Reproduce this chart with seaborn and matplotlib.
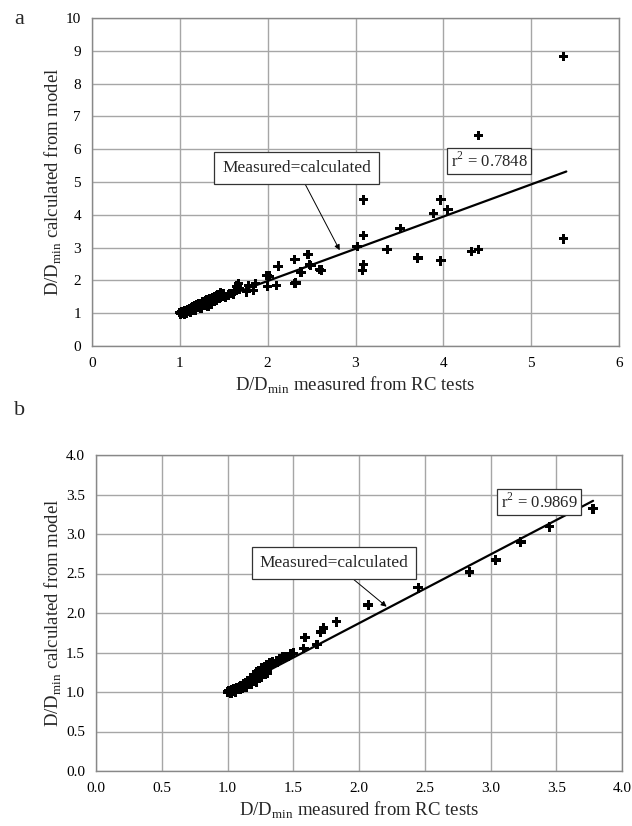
import numpy as np
import pandas as pd
import matplotlib
matplotlib.use("Agg")
import matplotlib.pyplot as plt
import seaborn as sns

# ---------------- data (panel a) ----------------
a_meas = [1.00, 1.01, 1.02, 1.03, 1.04, 1.05, 1.06, 1.07, 1.08, 1.09, 1.10, 1.11,
          1.12, 1.13, 1.14, 1.15, 1.16, 1.17, 1.18, 1.19, 1.20, 1.21, 1.22, 1.23,
          1.25, 1.26, 1.27, 1.28, 1.29, 1.30, 1.31, 1.33, 1.34, 1.35, 1.37, 1.38,
          1.40, 1.41, 1.43, 1.45, 1.46, 1.48, 1.50, 1.52, 1.55, 1.57, 1.61, 1.62,
          1.05, 1.08, 1.12, 1.18, 1.24, 1.32, 1.36, 1.42,
          1.65, 1.67, 1.68, 1.76, 1.78, 1.84, 1.86, 1.99, 2.00, 2.02, 2.10, 2.12,
          2.31, 2.31, 2.32, 2.38, 2.46, 2.48, 2.49, 2.59, 2.61,
          3.02, 3.08, 3.09, 3.09, 3.09, 3.36, 3.51, 3.71, 3.89, 3.97, 3.97, 4.05,
          4.32, 4.40, 4.40, 5.37, 5.37]
a_calc = [1.02, 0.98, 1.05, 1.00, 1.03, 1.08, 0.99, 1.06, 1.02, 1.10, 1.05, 1.12,
          1.07, 1.15, 1.10, 1.18, 1.12, 1.22, 1.16, 1.25, 1.20, 1.28, 1.22, 1.30,
          1.27, 1.35, 1.23, 1.33, 1.38, 1.30, 1.42, 1.36, 1.45, 1.40, 1.48, 1.44,
          1.50, 1.43, 1.55, 1.47, 1.62, 1.52, 1.58, 1.50, 1.55, 1.60, 1.59, 1.66,
          0.97, 1.00, 1.02, 1.08, 1.15, 1.22, 1.28, 1.40,
          1.82, 1.90, 1.74, 1.65, 1.85, 1.69, 1.90, 2.15, 1.82, 2.13, 1.85, 2.43,
          2.64, 1.90, 1.92, 2.25, 2.79, 2.48, 2.45, 2.33, 2.31,
          3.03, 2.31, 4.46, 3.37, 2.48, 2.94, 3.58, 2.68, 4.04, 4.46, 2.60, 4.15,
          2.88, 2.94, 6.42, 3.27, 8.83]
a_line_x = [1.0, 5.4]
a_line_y = [1.0, 5.32]

# ---------------- data (panel b) ----------------
b_meas = [1.00, 1.01, 1.02, 1.03, 1.04, 1.05, 1.06, 1.07, 1.08, 1.09, 1.10, 1.11,
          1.12, 1.13, 1.14, 1.15, 1.16, 1.17, 1.18, 1.19, 1.20, 1.21, 1.22, 1.23,
          1.24, 1.25, 1.26, 1.27, 1.28, 1.29, 1.30, 1.31, 1.32, 1.33, 1.34, 1.35,
          1.37, 1.38, 1.40, 1.42, 1.44, 1.46, 1.48, 1.50,
          1.03, 1.06, 1.10, 1.14, 1.18, 1.22, 1.26, 1.30,
          1.58, 1.59, 1.68, 1.71, 1.73, 1.83, 2.07, 2.45, 2.84, 3.04, 3.23, 3.45, 3.78]
b_calc = [1.00, 1.02, 0.99, 1.03, 1.01, 1.04, 1.02, 1.05, 1.03, 1.06, 1.08, 1.05,
          1.10, 1.07, 1.12, 1.10, 1.14, 1.12, 1.18, 1.15, 1.22, 1.17, 1.25, 1.20,
          1.27, 1.23, 1.30, 1.26, 1.32, 1.29, 1.35, 1.31, 1.37, 1.33, 1.38, 1.36,
          1.40, 1.38, 1.42, 1.44, 1.45, 1.45, 1.48, 1.49,
          0.98, 1.00, 1.03, 1.06, 1.10, 1.13, 1.19, 1.24,
          1.55, 1.69, 1.60, 1.76, 1.81, 1.89, 2.10, 2.32, 2.52, 2.67, 2.90, 3.09, 3.32]
b_line_x = [1.0, 3.78]
b_line_y = [1.0, 3.42]

sns.set_style("white")
plt.rcParams['font.family'] = ['Liberation Serif', 'DejaVu Serif']
plt.rcParams['mathtext.fontset'] = 'custom'
plt.rcParams['mathtext.rm'] = 'Liberation Serif'

W, H = 632, 826
fig = plt.figure(figsize=(W / 100, H / 100), dpi=100)

def place(l, t, r, b):
    return fig.add_axes([l / W, 1 - b / H, (r - l) / W, (b - t) / H])

axa = place(92, 18, 619, 346)
axb = place(96, 455, 622, 771)

grid_c = "#a6a6a6"

def style(ax):
    ax.grid(True, color=grid_c, lw=1.0)
    ax.set_axisbelow(True)
    for s in ax.spines.values():
        s.set_color("#888888")
        s.set_linewidth(1.0)
    ax.tick_params(axis='both', length=0, labelsize=11, pad=8, colors="black")

xlab = r"D/D$_\mathregular{min}$ measured from RC tests"
ylab = r"D/D$_\mathregular{min}$ calculated from model"

# panel a
da = pd.DataFrame({"meas": a_meas, "calc": a_calc})
sns.scatterplot(data=da, x="meas", y="calc", marker="P", s=48, color="black",
                edgecolor="none", ax=axa, zorder=3)
sns.lineplot(x=a_line_x, y=a_line_y, color="black", lw=1.6, ax=axa, sort=False, zorder=4)
axa.set_xlim(0, 6)
axa.set_ylim(0, 10)
axa.set_xticks(range(0, 7))
axa.set_yticks(range(0, 11))
style(axa)
axa.set_xlabel(xlab, fontsize=13.5, labelpad=3)
axa.set_ylabel(ylab, fontsize=13.5, labelpad=1)

box_kw = dict(boxstyle="square,pad=0.45", fc="white", ec="#333333", lw=0.9)
axa.annotate("Measured=calculated", xy=(2.82, 2.92), xytext=(2.33, 5.43),
             ha="center", va="center", fontsize=12.5, bbox=box_kw,
             arrowprops=dict(arrowstyle="-|>", color="black", lw=0.7,
                             mutation_scale=8, shrinkA=0, shrinkB=0), zorder=6)
axa.text(4.52, 5.63, r"r$^2$ = 0.7848", ha="center", va="center", fontsize=12,
         bbox=dict(boxstyle="square,pad=0.2", fc="white", ec="#333333", lw=0.9), zorder=6)

# panel b
db = pd.DataFrame({"meas": b_meas, "calc": b_calc})
sns.scatterplot(data=db, x="meas", y="calc", marker="P", s=48, color="black",
                edgecolor="none", ax=axb, zorder=3)
sns.lineplot(x=b_line_x, y=b_line_y, color="black", lw=1.6, ax=axb, sort=False, zorder=4)
axb.set_xlim(0, 4)
axb.set_ylim(0, 4)
ticks = np.arange(0, 4.01, 0.5)
axb.set_xticks(ticks)
axb.set_yticks(ticks)
axb.set_xticklabels([f"{t:.1f}" for t in ticks])
axb.set_yticklabels([f"{t:.1f}" for t in ticks])
style(axb)
axb.set_xlabel(xlab, fontsize=13.5, labelpad=3)
axb.set_ylabel(ylab, fontsize=13.5, labelpad=1)

axb.annotate("Measured=calculated", xy=(2.21, 2.08), xytext=(1.81, 2.63),
             ha="center", va="center", fontsize=12.5, bbox=box_kw,
             arrowprops=dict(arrowstyle="-|>", color="black", lw=0.7,
                             mutation_scale=8, shrinkA=0, shrinkB=0), zorder=6)
axb.text(3.37, 3.40, r"r$^2$ = 0.9869", ha="center", va="center", fontsize=12,
         bbox=dict(boxstyle="square,pad=0.2", fc="white", ec="#333333", lw=0.9), zorder=6)

fig.text(14 / W, 1 - 20 / H, "a", fontsize=16, ha="left", va="center")
fig.text(14 / W, 1 - 410 / H, "b", fontsize=16, ha="left", va="center")

fig.savefig("out.png", dpi=100)
